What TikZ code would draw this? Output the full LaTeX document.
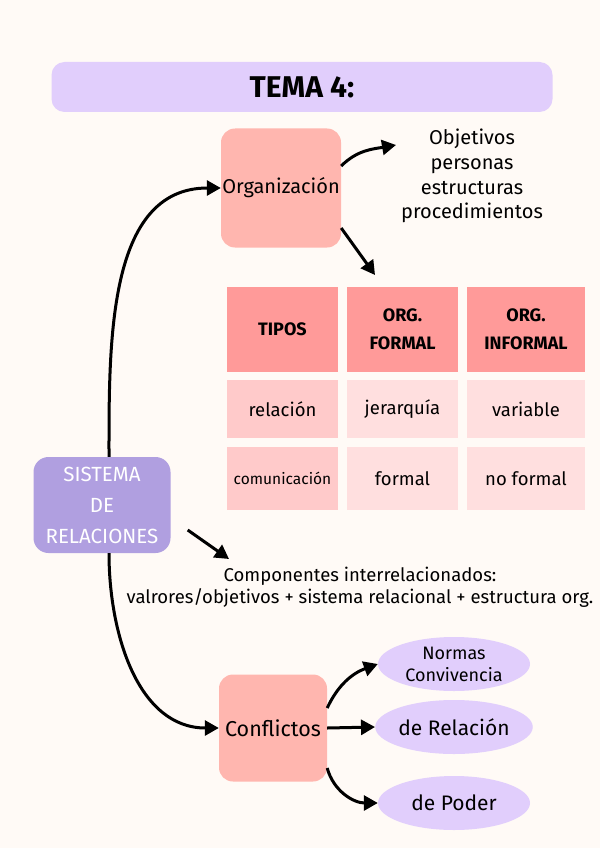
\documentclass[tikz,border=0pt]{standalone}
\usepackage{fontspec}
\setmainfont{Fira Sans}
\usetikzlibrary{shapes.geometric, arrows.meta, positioning}

\definecolor{bgcream}{HTML}{FFFAF6}
\definecolor{lavender}{HTML}{E1CEFC}
\definecolor{salmon}{HTML}{FFB6AF}
\definecolor{headred}{HTML}{FF9A99}
\definecolor{cellpink}{HTML}{FFCACA}
\definecolor{celllight}{HTML}{FFDFDF}
\definecolor{violet}{HTML}{B09FE0}

\begin{document}
\begin{tikzpicture}[
            x=1pt, y=-1pt,
            txt/.style={font=\fontsize{20}{24.7}\selectfont, align=center, inner sep=0pt},
            bar/.style={rectangle, fill=lavender, rounded corners=13pt, minimum width=501pt, minimum height=50pt, font=\fontsize{30}{34}\selectfont\bfseries},
            box/.style={rectangle, fill=salmon, rounded corners=14pt, txt},
            head/.style={rectangle, fill=headred, outer sep=0pt, minimum width=111pt, minimum height=85pt, align=center, font=\fontsize{18}{28}\selectfont\bfseries},
            side/.style={rectangle, fill=cellpink, outer sep=0pt, minimum width=111pt, txt, font=\fontsize{18.5}{22}\selectfont},
            cell/.style={rectangle, fill=celllight, outer sep=0pt, minimum width=111pt, txt, font=\fontsize{18.5}{22}\selectfont},
            oval/.style={ellipse, fill=lavender, minimum width=152pt, minimum height=54pt, txt, font=\fontsize{21}{24}\selectfont},
            arr/.style={-{Triangle[length=14pt,width=15pt]}, line width=3pt, black}
        ]
        % Background and frame
        \useasboundingbox[fill=bgcream] (0,0) rectangle (600,848);
        \node[bar] (title) at (302,87) {TEMA 4:};

        % Top - organizacion
        \node[box, minimum width=120pt, minimum height=119pt] (org) at (281,188) {Organización};
        \node[txt] (obj) at (472,176) {Objetivos\\personas\\estructuras\\procedimientos};
        \coordinate (objtip) at (396,145);
        \coordinate (tabtip) at (375,275);

        % Table of types
        \node[head] (h1) at (282.5,329.5) {TIPOS};
        \node[head, right=9pt of h1] (h2) {ORG.\\FORMAL};
        \node[head, right=9pt of h2, minimum width=118pt] (h3) {ORG.\\INFORMAL};
        \node[side, minimum height=58pt, below=8pt of h1] (r1) {relación};
        \node[cell, minimum height=58pt, below=8pt of h2] (r2) {jerarquía};
        \node[cell, minimum height=58pt, below=8pt of h3, minimum width=118pt] (r3) {variable};
        \node[side, minimum height=63pt, below=9pt of r1, font=\fontsize{15.5}{18}\selectfont] (c1) {comunicación};
        \node[cell, minimum height=63pt, below=9pt of r2] (c2) {formal};
        \node[cell, minimum height=63pt, below=9pt of r3, minimum width=118pt] (c3) {no formal};

        % Left side - sistema
        \node[box, fill=violet, text=white, minimum width=137pt, minimum height=96pt, rounded corners=15pt, font=\fontsize{20.5}{31}\selectfont] (sis) at (102,505) {SISTEMA\\DE\\RELACIONES};
        \node[txt, font=\fontsize{18.5}{22}\selectfont] (comp) at (360,587) {Componentes interrelacionados:\\valrores/objetivos + sistema relacional + estructura org.};
        \coordinate (comptip) at (229,559);

        % Bottom - conflictos
        \node[box, minimum width=108pt, minimum height=107pt, font=\fontsize{21.5}{24}\selectfont] (conf) at (273,728) {Conflictos};
        \node[oval, font=\fontsize{18}{22}\selectfont] (norm) at (454,664) {Normas\\Convivencia};
        \node[oval] (rel) at (454,727) {de Relación};
        \node[oval] (poder) at (454,803) {de Poder};

        % Connectors
        \draw[arr] ([xshift=7pt]sis.north) to[out=90, in=180] (org.west);
        \draw[arr] ([xshift=7pt]sis.south) to[out=-90, in=180] (conf.west);
        \draw[arr] ([yshift=22pt]org.east) to[out=45, in=190] (objtip);
        \draw[arr] ([yshift=-40pt]org.east) -- (tabtip);
        \draw[arr] ([shift={(17pt,-25pt)}]sis.east) -- (comptip);
        \draw[arr] ([yshift=20pt]conf.east) to[out=65, in=200] (norm.west);
        \draw[arr] (conf.east) -- (rel.west);
        \draw[arr] ([yshift=-40pt]conf.east) to[out=-75, in=180] (poder.west);

    \end{tikzpicture}
\end{document}
